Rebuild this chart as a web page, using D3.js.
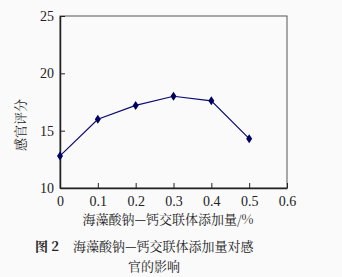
<!DOCTYPE html>
<html>
<head>
<meta charset="utf-8">
<script src="https://cdn.jsdelivr.net/npm/d3@7"></script>
<style>
  body { margin: 0; background: #fafafa; }
  svg { display: block; }
</style>
</head>
<body>
<div id="chart"></div>
<script>
// data
var dosage = [0, 0.1, 0.2, 0.3, 0.4, 0.5];
var score = [12.8, 16.0, 17.2, 18.0, 17.6, 14.3];
var xTicks = [0, 0.1, 0.2, 0.3, 0.4, 0.5, 0.6];
var yTicks = [10, 15, 20, 25];

var W = 342, H = 277;
var margin = {top: 16, right: 55, bottom: 89, left: 60},
    width = W - margin.left - margin.right,
    height = H - margin.top - margin.bottom;

var svg = d3.select("#chart").append("svg")
    .attr("width", W)
    .attr("height", H);

var g = svg.append("g")
    .attr("transform", "translate(" + margin.left + "," + margin.top + ")");

var x = d3.scaleLinear().domain([0, 0.6]).range([0, width]);
var y = d3.scaleLinear().domain([10, 25]).range([height, 0]);

var numFont = "'Liberation Serif', 'Times New Roman', serif";
var cjkFont = "'Noto Serif CJK SC', 'Noto Sans CJK SC', sans-serif";

// frame
g.append("rect")
    .attr("width", width)
    .attr("height", height)
    .attr("fill", "none")
    .attr("stroke", "#555")
    .attr("stroke-width", 1);

// axes with inward ticks
var xAxis = g.append("g")
    .attr("transform", "translate(0," + height + ")")
    .call(d3.axisBottom(x).tickValues(xTicks).tickSizeInner(-5).tickSizeOuter(0)
      .tickFormat(function(d) { return d === 0 ? "0" : d3.format(".1f")(d); }));
xAxis.selectAll("text")
    .attr("y", 8)
    .style("font-family", numFont)
    .style("font-size", "14px")
    .attr("fill", "#222");

var yAxis = g.append("g")
    .call(d3.axisLeft(y).tickValues(yTicks).tickSizeInner(-5).tickSizeOuter(0));
yAxis.selectAll("text")
    .attr("x", -6)
    .style("font-family", numFont)
    .style("font-size", "14px")
    .attr("fill", "#222");

[xAxis, yAxis].forEach(function(a) {
  a.select(".domain").attr("stroke", "#222").attr("stroke-width", 1.5);
  a.selectAll(".tick line").attr("stroke", "#222");
});

// line
var pts = dosage.map(function(d, i) { return [d, score[i]]; });
g.append("path")
    .datum(pts)
    .attr("fill", "none")
    .attr("stroke", "#0a0a70")
    .attr("stroke-width", 1.2)
    .attr("d", d3.line()
      .x(function(d) { return x(d[0]); })
      .y(function(d) { return y(d[1]); }));

// diamond markers
g.selectAll(".pt")
    .data(pts)
    .enter().append("path")
    .attr("class", "pt")
    .attr("transform", function(d) { return "translate(" + x(d[0]) + "," + y(d[1]) + ")"; })
    .attr("d", "M0,-4.5L3,0L0,4.5L-3,0Z")
    .attr("fill", "#00005e");

// y label
svg.append("text")
    .attr("transform", "translate(20,125) rotate(-90)")
    .attr("text-anchor", "middle")
    .attr("dy", "0.35em")
    .style("font-family", cjkFont)
    .style("font-size", "13px")
    .attr("fill", "#222")
    .text("感官评分");

// x label
svg.append("text")
    .attr("x", 168)
    .attr("y", 224)
    .attr("text-anchor", "middle")
    .style("font-family", cjkFont)
    .style("font-size", "13px")
    .attr("fill", "#222")
    .text("海藻酸钠—钙交联体添加量/%");

// caption
var cap = svg.append("text")
    .attr("x", 35)
    .attr("y", 251)
    .style("font-family", cjkFont)
    .style("font-size", "13px")
    .attr("fill", "#222");
cap.append("tspan").style("font-weight", "bold").text("图 2");
cap.append("tspan").attr("dx", 14).text("海藻酸钠—钙交联体添加量对感");

svg.append("text")
    .attr("x", 128)
    .attr("y", 271)
    .style("font-family", cjkFont)
    .style("font-size", "13px")
    .attr("fill", "#222")
    .text("官的影响");
</script>
</body>
</html>
